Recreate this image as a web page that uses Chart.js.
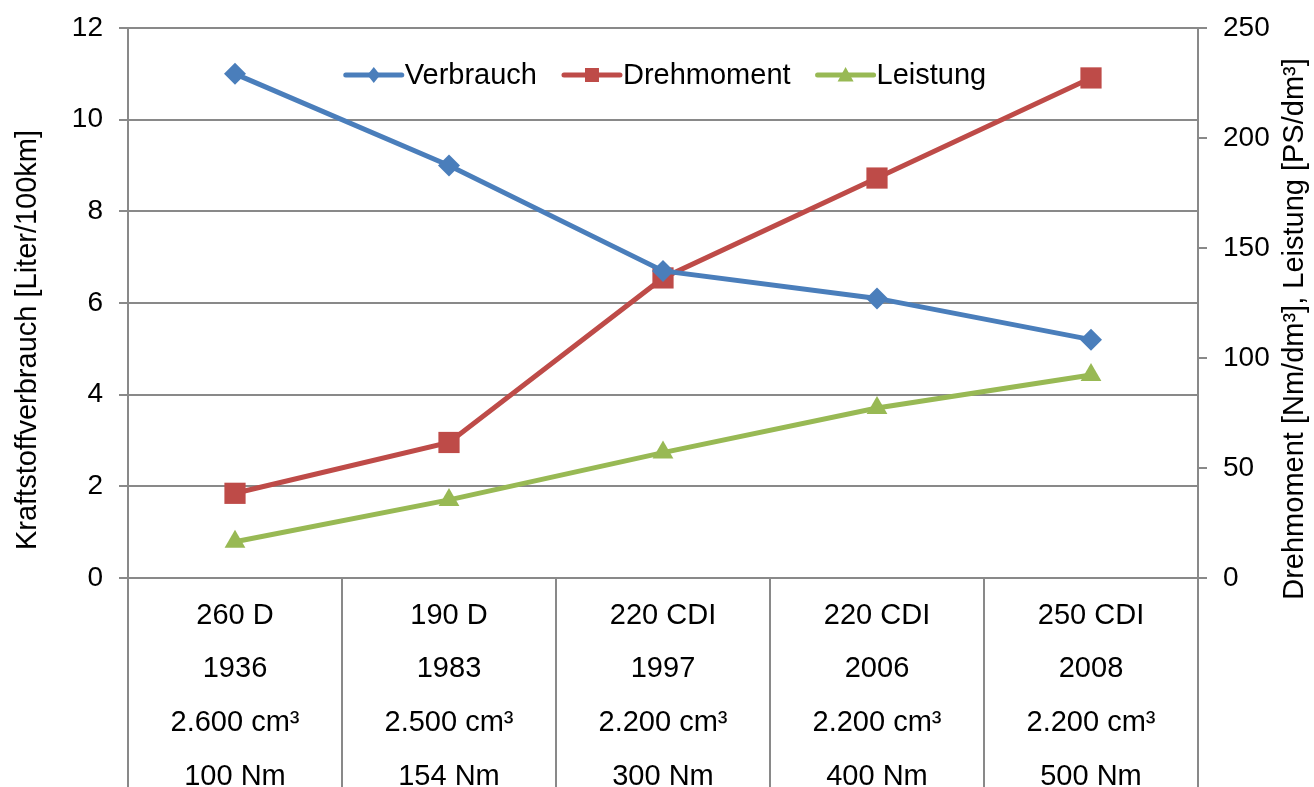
<!DOCTYPE html>
<html>
<head>
<meta charset="utf-8">
<script src="https://cdn.jsdelivr.net/npm/chart.js@4.4.1/dist/chart.umd.min.js"></script>
<style>
  html, body { margin: 0; padding: 0; background: #fff; }
</style>
</head>
<body>
<canvas id="dieselChart" width="1314" height="787"></canvas>
<script>
// Data for the chart
const categories = [
  ["260 D", "1936", "2.600 cm³", "100 Nm"],
  ["190 D", "1983", "2.500 cm³", "154 Nm"],
  ["220 CDI", "1997", "2.200 cm³", "300 Nm"],
  ["220 CDI", "2006", "2.200 cm³", "400 Nm"],
  ["250 CDI", "2008", "2.200 cm³", "500 Nm"]
];
const verbrauch = [11, 9, 6.7, 6.1, 5.2];           // Liter/100km (left axis)
const drehmoment = [38.5, 61.6, 136.4, 181.8, 227.3]; // Nm/dm³ (right axis)
const leistung = [16.5, 35.5, 57, 77.3, 92.3];       // PS/dm³ (right axis)
const leftTicks = [0, 2, 4, 6, 8, 10, 12];
const rightTicks = [0, 50, 100, 150, 200, 250];

const FONT = "'Liberation Sans', Arial, sans-serif";
const GRID = '#898989';

// Legend drawn inside the plot area, line + marker like the original
const innerLegend = {
  id: 'innerLegend',
  afterDraw(chart) {
    const ctx = chart.ctx;
    const area = chart.chartArea;
    ctx.save();
    ctx.font = '29px ' + FONT;
    ctx.textBaseline = 'middle';
    const lineLen = 56, gapText = 3, gapItem = 27;
    const items = chart.data.datasets.map(ds => ({ ds, w: ctx.measureText(ds.label).width }));
    let total = 0;
    items.forEach((it, i) => { total += lineLen + gapText + it.w + (i ? gapItem : 0); });
    let x = (area.left + area.right) / 2 - total / 2 + 3;
    const y = 75;
    items.forEach(it => {
      const ds = it.ds;
      const cx = x + lineLen / 2;
      const r = ds.legendRadius;
      ctx.strokeStyle = ds.borderColor;
      ctx.lineWidth = 5;
      ctx.lineCap = 'round';
      ctx.beginPath();
      ctx.moveTo(x, y);
      ctx.lineTo(x + lineLen, y);
      ctx.stroke();
      ctx.fillStyle = ds.borderColor;
      ctx.beginPath();
      if (ds.pointStyle === 'rectRot') {
        ctx.moveTo(cx, y - r); ctx.lineTo(cx + r * 0.8, y);
        ctx.lineTo(cx, y + r); ctx.lineTo(cx - r * 0.8, y);
      } else if (ds.pointStyle === 'rect') {
        ctx.rect(cx - r, y - r, 2 * r, 2 * r);
      } else {
        ctx.moveTo(cx, y - r); ctx.lineTo(cx + r, y + r * 0.8);
        ctx.lineTo(cx - r, y + r * 0.8);
      }
      ctx.closePath();
      ctx.fill();
      ctx.fillStyle = '#000';
      ctx.textAlign = 'left';
      ctx.fillText(ds.label, x + lineLen + gapText, y + 1);
      x += lineLen + gapText + it.w + gapItem;
    });
    ctx.restore();
  }
};

// Axis titles, both reading bottom-to-top
const axisTitles = {
  id: 'axisTitles',
  afterDraw(chart) {
    const ctx = chart.ctx;
    const draw = (text, x, y) => {
      ctx.save();
      ctx.font = '29px ' + FONT;
      ctx.fillStyle = '#000';
      ctx.textAlign = 'center';
      ctx.textBaseline = 'middle';
      ctx.translate(x, y);
      ctx.rotate(-Math.PI / 2);
      ctx.fillText(text, 0, 0);
      ctx.restore();
    };
    draw('Kraftstoffverbrauch [Liter/100km]', 28, 340);
    draw('Drehmoment [Nm/dm³], Leistung [PS/dm³]', 1295, 329);
  }
};

const data = {
  labels: categories,
  datasets: [
    {
      label: 'Verbrauch', data: verbrauch, yAxisID: 'y',
      borderColor: '#4A7EBB', backgroundColor: '#4A7EBB',
      pointStyle: 'rectRot', pointRadius: 11, legendRadius: 8
    },
    {
      label: 'Drehmoment', data: drehmoment, yAxisID: 'y2',
      borderColor: '#BE4B48', backgroundColor: '#BE4B48',
      pointStyle: 'rect', pointRadius: 15, legendRadius: 7
    },
    {
      label: 'Leistung', data: leistung, yAxisID: 'y2',
      borderColor: '#98B954', backgroundColor: '#98B954',
      pointStyle: 'triangle', pointRadius: 12, legendRadius: 8
    }
  ]
};
data.datasets.forEach(ds => {
  ds.borderWidth = 5;
  ds.pointBorderWidth = 0;
  ds.tension = 0;
  ds.clip = false;
});

const config = {
  type: 'line',
  data: data,
  options: {
    responsive: false,
    animation: false,
    layout: { padding: { top: 28, left: 0, right: 0, bottom: 0 } },
    plugins: { legend: { display: false }, tooltip: { enabled: false } },
    scales: {
      x: {
        offset: true,
        grid: {
          offset: true, drawOnChartArea: false, drawTicks: true,
          tickLength: 209, color: GRID, lineWidth: 2
        },
        border: { display: true, color: GRID, width: 2 },
        ticks: {
          color: '#000', padding: -198, maxRotation: 0, autoSkip: false,
          font: { family: FONT, size: 29, lineHeight: 1.85 }
        },
        afterFit(scale) { scale.height = 209; }
      },
      y: {
        position: 'left',
        min: leftTicks[0], max: leftTicks[leftTicks.length - 1],
        afterBuildTicks(scale) { scale.ticks = leftTicks.map(v => ({ value: v })); },
        grid: { color: GRID, lineWidth: 2, tickLength: 9 },
        border: { display: true, color: GRID, width: 2 },
        ticks: { color: '#000', padding: 16, font: { family: FONT, size: 28, lineHeight: 0.8 } },
        afterFit(scale) { scale.width = 128; }
      },
      y2: {
        position: 'right',
        min: rightTicks[0], max: rightTicks[rightTicks.length - 1],
        afterBuildTicks(scale) { scale.ticks = rightTicks.map(v => ({ value: v })); },
        grid: { drawOnChartArea: false, color: GRID, lineWidth: 2, tickLength: 9 },
        border: { display: true, color: GRID, width: 2 },
        ticks: { color: '#000', padding: 16, font: { family: FONT, size: 28, lineHeight: 0.8 } },
        afterFit(scale) { scale.width = 116; }
      }
    }
  },
  plugins: [innerLegend, axisTitles]
};

// Create the chart
window.addEventListener('DOMContentLoaded', () => {
  const dieselChart = new Chart(document.getElementById('dieselChart'), config);
});
</script>
</body>
</html>
